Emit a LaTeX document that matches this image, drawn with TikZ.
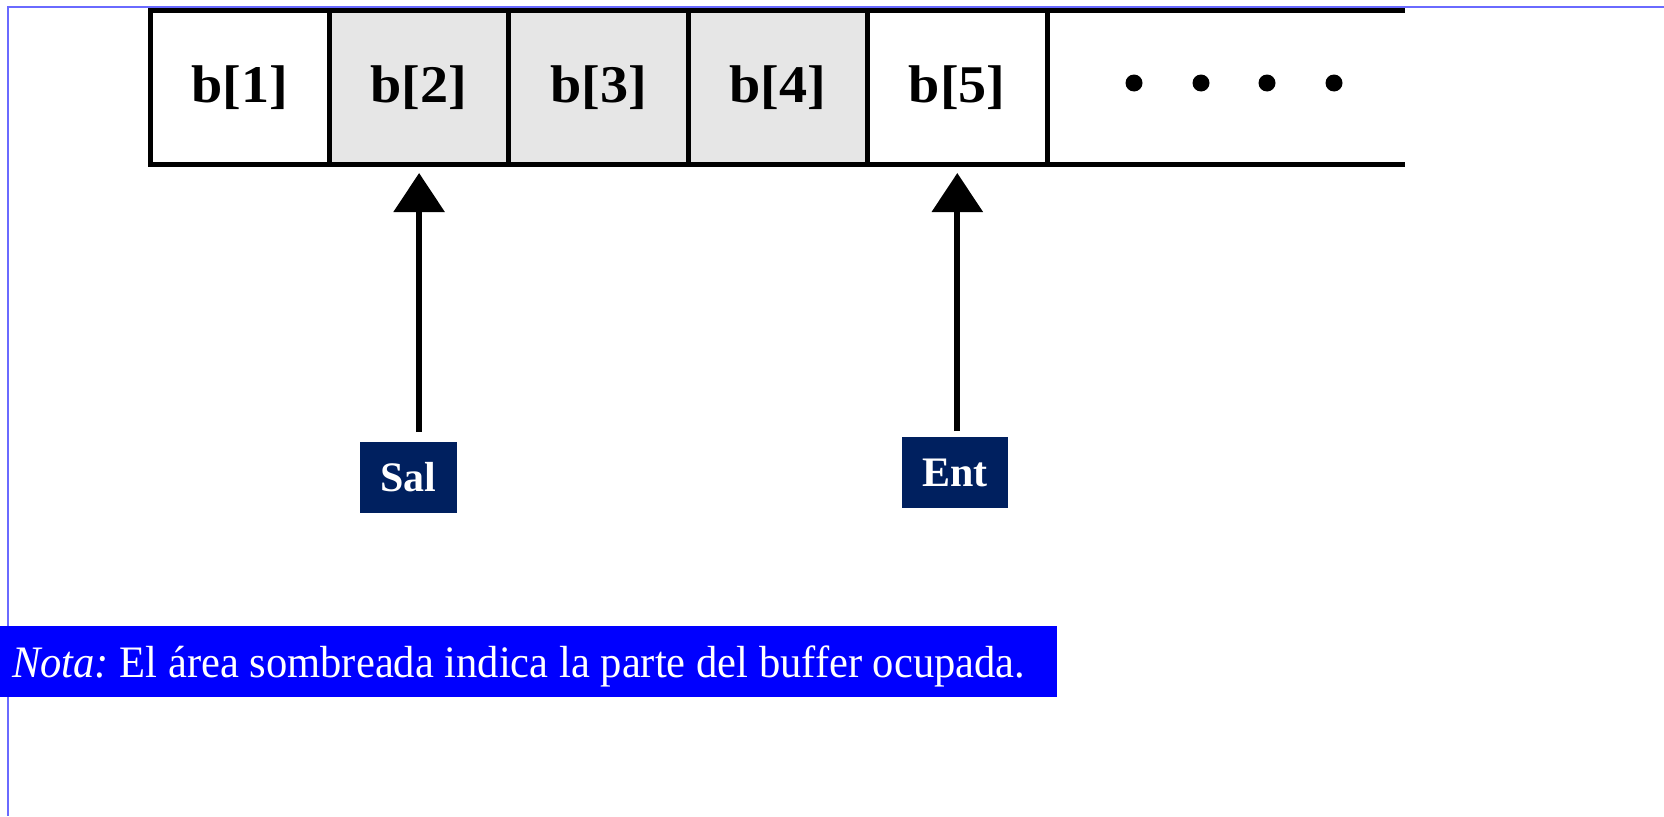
\documentclass[tikz,border=0pt]{standalone}
\usepackage{fontspec}
\setmainfont{Liberation Serif}
\usetikzlibrary{arrows.meta}
\definecolor{cellgray}{HTML}{E6E6E6}
\definecolor{navybox}{HTML}{00205F}
\definecolor{notablue}{HTML}{0000FF}
\definecolor{framecol}{HTML}{6A6AFF}
\begin{document}
\begin{tikzpicture}[x=1pt,y=-1pt,
  cell/.style={draw=black, line width=5pt, minimum width=179.4pt, minimum height=153.5pt,
    inner sep=0pt, outer sep=0pt, font=\bfseries\fontsize{53}{60}\selectfont},
  shaded/.style={cell, fill=cellgray},
  tag/.style={fill=navybox, text=white, inner sep=0pt, outer sep=0pt,
    minimum height=71pt, font=\bfseries\fontsize{42}{50}\selectfont},
  ptr/.style={line width=6pt, -{Triangle[width=50pt,length=39pt]}},
  edge/.style={line width=5pt, draw=black},
  frameline/.style={draw=framecol, line width=1.5pt},
  dot/.style={circle, fill=black, inner sep=0pt, minimum size=17pt}
]
\useasboundingbox (0,0) rectangle (1664,816);

% frame lines
\coordinate (fr0) at (8,7);
\coordinate (fr1) at (1664,7);
\coordinate (fr2) at (8,816);
\draw[frameline] (fr1) -- (fr0) -- (fr2);

% buffer cells
\node[cell]   (c1) at (239.7,87.25) {\raisebox{-3pt}{\scalebox{1.06}[1]{b[1]}}};
\node[shaded] (c2) at (419.1,87.25) {\raisebox{-3pt}{\scalebox{1.06}[1]{b[2]}}};
\node[shaded] (c3) at (598.5,87.25) {\raisebox{-3pt}{\scalebox{1.06}[1]{b[3]}}};
\node[shaded] (c4) at (777.9,87.25) {\raisebox{-3pt}{\scalebox{1.06}[1]{b[4]}}};
\node[cell]   (c5) at (957.3,87.25) {\raisebox{-3pt}{\scalebox{1.06}[1]{b[5]}}};

% open end of the buffer
\coordinate (endtop) at (1405,10.5);
\coordinate (endbot) at (1405,164);
\draw[edge] (c5.north east) -- (endtop);
\draw[edge] (c5.south east) -- (endbot);

% dots
\node[dot] (d1) at (1134,83) {};
\node[dot] (d2) at (1201,83) {};
\node[dot] (d3) at (1267,83) {};
\node[dot] (d4) at (1334,83) {};

% pointer tags
\node[tag, minimum width=97pt]  (sal) at (408.5,477.5) {Sal};
\node[tag, minimum width=106pt] (ent) at (955,472.5) {Ent};

% pointer arrows
\draw[ptr] ([yshift=10pt]sal.north -| c2.south) -- ([yshift=-9pt]c2.south);
\draw[ptr] ([yshift=6pt]ent.north -| c5.south) -- ([yshift=-9pt]c5.south);

% note
\node[fill=notablue, anchor=west, inner sep=0pt, minimum width=1057pt,
  minimum height=71pt] (notabox) at (0,661.5) {};
\node[text=white, anchor=base west, inner sep=0pt,
  font=\fontsize{45}{50}\selectfont] (nota) at (12,677)
  {\frenchspacing\resizebox{1013pt}{\height}{\textit{Nota:} El área sombreada indica la parte del buffer ocupada.}};
\end{tikzpicture}
\end{document}
